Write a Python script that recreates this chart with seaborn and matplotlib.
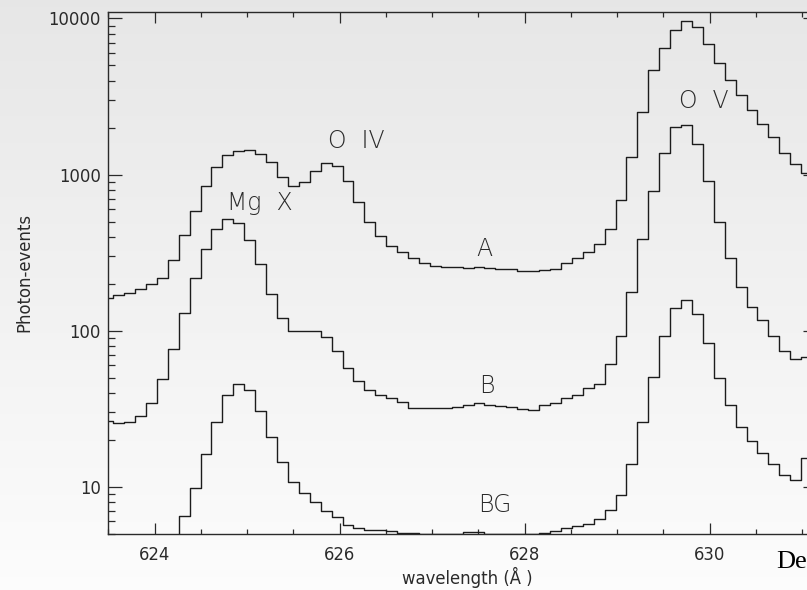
import numpy as np
import pandas as pd
import matplotlib
matplotlib.use("Agg")
import matplotlib.pyplot as plt
import seaborn as sns
from matplotlib.ticker import FixedLocator, MultipleLocator, LogLocator, NullFormatter

# ---- data (photon events per wavelength bin) ----
bin_start = 623.494      # centre of first bin (Angstrom)
bin_width = 0.11805      # bin width (Angstrom)
n_bins = 66
wavelength = np.round(bin_start + bin_width * np.arange(n_bins), 4)

series_A = [163, 169, 175, 186, 198, 219, 283, 413, 588, 842,
            1119, 1329, 1416, 1437, 1349, 1204, 968, 842, 897, 1054,
            1186, 1142, 915, 668, 497, 403, 351, 320, 294, 272,
            260, 256, 255, 253, 254, 253, 249, 247, 242, 240,
            243, 249, 270, 291, 320, 358, 451, 685, 1296, 2515,
            4649, 6457, 8466, 9568, 8797, 6888, 5176, 4029, 3217, 2579,
            2120, 1740, 1375, 1164, 1024, 1000]

series_B = [26.5, 25.7, 26.1, 28.4, 34.3, 49.0, 76.2, 130, 218, 333,
            445, 518, 492, 383, 266, 171, 120, 99.9, 99.9, 99.4,
            91.4, 74.1, 57.4, 47.6, 41.7, 38.7, 36.9, 34.8, 32.1, 32.1,
            32.1, 32.1, 32.6, 33.4, 34.3, 33.4, 32.9, 32.3, 31.6, 30.9,
            33.4, 34.6, 36.9, 38.7, 42.6, 45.5, 60.9, 92.8, 177, 384,
            782, 1375, 2007, 2089, 1563, 915, 497, 290, 189, 142,
            117, 92.4, 74.4, 65.5, 68.1, 68.0]

series_BG = [2.0, 2.0, 2.0, 2.0, 2.0, 2.5, 3.0, 6.51, 9.88, 16.2,
             26.1, 38.7, 45.5, 41.7, 30.7, 20.9, 14.5, 10.8, 9.07, 8.04,
             7.01, 6.39, 5.70, 5.48, 5.30, 5.25, 5.17, 5.09, 5.04, 4.99,
             4.99, 4.99, 4.99, 5.11, 5.11, 4.99, 4.99, 4.99, 4.99, 4.99,
             5.04, 5.22, 5.43, 5.6, 5.79, 6.20, 7.11, 8.88, 13.9, 25.9,
             50.2, 92.4, 140, 157, 127, 82.9, 49.7, 33.4, 24.1, 19.5,
             16.4, 13.9, 11.9, 11.1, 15.2, 15.2]

series_names = ["A", "B", "BG"]

# annotation labels (text, wavelength, baseline value)
ann_text = ["Mg  X", "O  IV", "O  V", "A", "B", "BG"]
ann_x = [625.14, 626.18, 629.94, 627.57, 627.59, 627.68]
ann_y = [597, 1480, 2684, 300, 39.7, 6.94]

xtick_major = [624, 626, 628, 630]
ytick_major = [10, 100, 1000, 10000]
ytick_labels = ["10", "100", "1000", "10000"]

df = pd.DataFrame({
    "wavelength": np.concatenate([wavelength] * 3),
    "counts": np.concatenate([series_A, series_B, series_BG]),
    "series": np.repeat(series_names, n_bins),
})

# ---- figure ----
sns.set_style("ticks")
plt.rcParams["font.family"] = ["DejaVu Sans"]

W, H = 807, 590
fig = plt.figure(figsize=(W / 100, H / 100), dpi=100)

# gradient background
bg_ax = fig.add_axes([0, 0, 1, 1], zorder=-10)
grad = np.linspace(0.905, 0.99, 256)[:, None]
bg_ax.imshow(np.dstack([grad, grad, grad]), aspect="auto", extent=[0, 1, 0, 1],
             origin="upper", interpolation="bilinear")
bg_ax.set_axis_off()

ax_l, ax_r, ax_b, ax_t = 108.3, 816.6, 534, 12
ax = fig.add_axes([ax_l / W, 1 - ax_b / H, (ax_r - ax_l) / W, (ax_b - ax_t) / H])
ax.set_facecolor("none")

line_col = "#1c1c1c"
for name in series_names:
    sns.lineplot(data=df[df["series"] == name], x="wavelength", y="counts",
                 ax=ax, color=line_col, linewidth=1.0, drawstyle="steps-mid",
                 estimator=None, sort=True, legend=False)

ax.set_yscale("log")
ax.set_xlim(623.5, 631.157)
ax.set_ylim(4.98, 11000)

# ticks
ax.xaxis.set_major_locator(FixedLocator(xtick_major))
ax.xaxis.set_minor_locator(MultipleLocator(0.5))
ax.set_xticklabels([str(v) for v in xtick_major])
ax.yaxis.set_major_locator(FixedLocator(ytick_major))
ax.set_yticklabels(ytick_labels)
ax.yaxis.set_minor_locator(LogLocator(base=10, subs=np.arange(2, 10)))
ax.yaxis.set_minor_formatter(NullFormatter())

tcol = "#2a2a2a"
ax.tick_params(axis="x", which="major", direction="in", length=7.7, width=0.9,
               top=True, bottom=True, pad=9, labelsize=11.9, colors=tcol)
ax.tick_params(axis="x", which="minor", direction="in", length=3.6, width=0.9,
               top=True, bottom=True, colors=tcol)
ax.tick_params(axis="y", which="major", direction="in", length=10.3, width=0.9,
               left=True, right=True, pad=5.2, labelsize=11.9, colors=tcol)
ax.tick_params(axis="y", which="minor", direction="in", length=4.8, width=0.9,
               left=True, right=True, colors=tcol)
for sp in ax.spines.values():
    sp.set_visible(True)
    sp.set_color("#2a2a2a")
    sp.set_linewidth(1.0)

ax.set_xlabel("wavelength (Å )", fontsize=11.9, color=tcol)
ax.set_ylabel("Photon-events", fontsize=11.9, color=tcol)
ax.xaxis.set_label_coords((467.5 - ax_l) / (ax_r - ax_l), -(567 - ax_b) / (ax_b - ax_t))
ax.yaxis.set_label_coords(-(108.3 - 24.2) / (ax_r - ax_l), 0.5)
ax.yaxis.label.set_verticalalignment("center")

for t, x, y in zip(ann_text, ann_x, ann_y):
    ax.text(x, y, t, ha="center", va="baseline", fontsize=17, color=tcol,
            fontweight="light")

fig.text(776.0 / W, 1 - 568.3 / H, "De", fontsize=19,
         family=["Liberation Serif", "DejaVu Serif"], color="black",
         ha="left", va="baseline")

fig.savefig("out.png", dpi=100)
